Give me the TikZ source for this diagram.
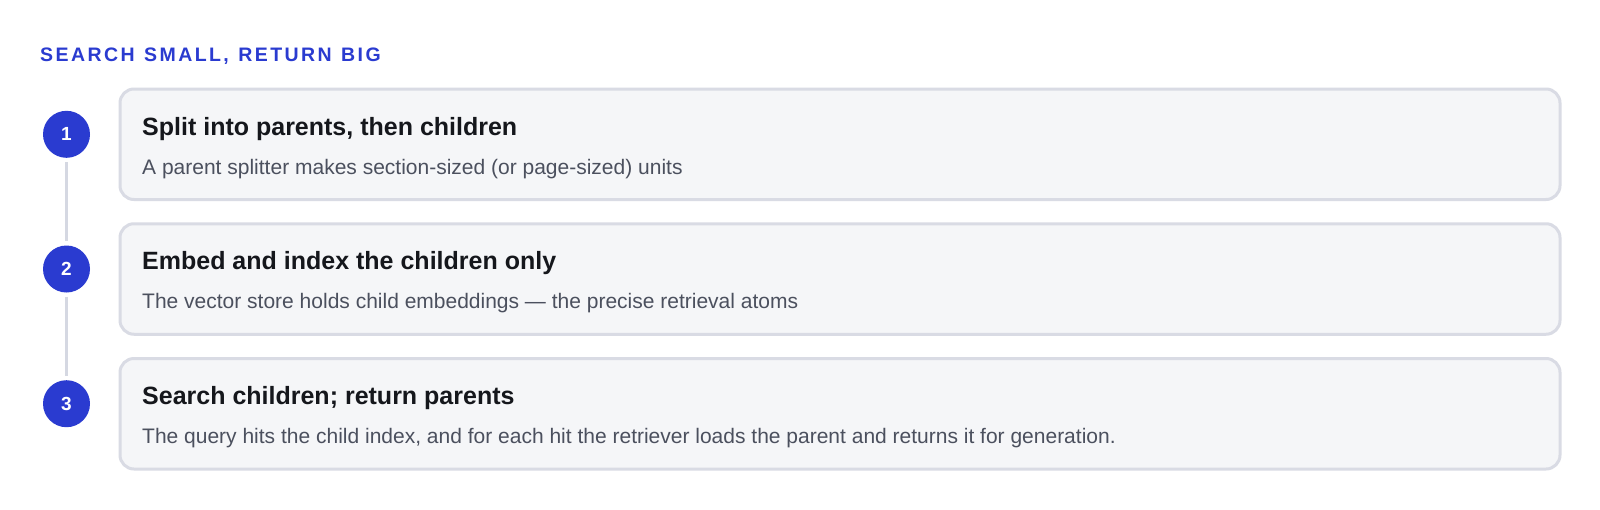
\documentclass[tikz,border=0pt]{standalone}
\usepackage{fontspec}
\setmainfont{Liberation Sans}
\newfontfamily\titlefont[LetterSpace=12.5,WordSpace=1.2]{Liberation Sans}
\definecolor{accent}{HTML}{2A3BD0}
\definecolor{cardfill}{HTML}{F5F6F8}
\definecolor{cardline}{HTML}{D9DBE4}
\definecolor{connline}{HTML}{D5D8E2}
\definecolor{headtext}{HTML}{15171C}
\definecolor{subtext}{HTML}{4B505E}
\tikzset{
  card/.style={draw=cardline, fill=cardfill, line width=3pt, rounded corners=14pt,
    minimum width=1440pt, minimum height=110.5pt, inner sep=0pt, anchor=north west},
  badge/.style={circle, fill=accent, minimum size=47pt, inner sep=0pt, text=white,
    font=\bfseries\fontsize{19}{22}\selectfont},
  conn/.style={draw=connline, line width=3.5pt},
  headline/.style={anchor=base west, inner sep=0pt, text=headtext,
    font=\bfseries\fontsize{25}{30}\selectfont},
  subline/.style={anchor=base west, inner sep=0pt, text=subtext,
    font=\fontsize{21}{25}\selectfont},
  titletext/.style={anchor=base west, inner sep=0pt, text=accent,
    font=\titlefont\bfseries\fontsize{19.5}{22}\selectfont}
}
\begin{document}
\begin{tikzpicture}[x=1pt,y=-1pt]
\useasboundingbox (0,0) rectangle (1600,509);
\fill[white] (0,0) rectangle (1600,509);
\node[titletext] (title) at (40,61.3) {SEARCH SMALL, RETURN BIG};

\node[card] (b1) at (118.5,87.5) {};
\node[card] (b2) at (118.5,222.25) {};
\node[card] (b3) at (118.5,357) {};

\node[badge] (c1) at (66.5,134.3) {1};
\node[badge] (c2) at (66.5,269) {2};
\node[badge] (c3) at (66.5,403.7) {3};

\draw[conn] ([yshift=-4pt]c1.south) -- ([yshift=4pt]c2.north);
\draw[conn] ([yshift=-4pt]c2.south) -- ([yshift=4pt]c3.north);

\node[headline] (h1) at (142,135) {Split into parents, then children};
\node[subline] (s1) at (142,174) {A parent splitter makes section-sized (or page-sized) units};
\node[headline] (h2) at (142,269.75) {Embed and index the children only};
\node[subline] (s2) at (142,308.75) {The vector store holds child embeddings — the precise retrieval atoms};
\node[headline] (h3) at (142,404.5) {Search children; return parents};
\node[subline] (s3) at (142,443.5) {The query hits the child index, and for each hit the retriever loads the parent and returns it for generation.};
\end{tikzpicture}
\end{document}
